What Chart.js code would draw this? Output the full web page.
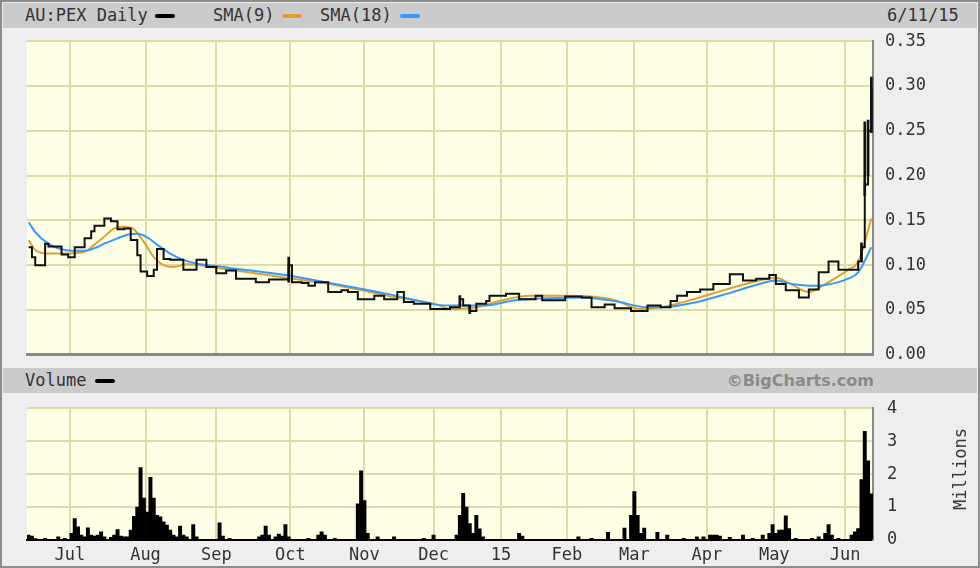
<!DOCTYPE html>
<html>
<head>
<meta charset="utf-8">
<script src="https://cdn.jsdelivr.net/npm/chart.js@4/dist/chart.umd.min.js"></script>
<style>
  body { margin:0; background:#fff; }
  #wrap { position:relative; width:980px; height:568px; background:#eeeeee; overflow:hidden;
          box-sizing:border-box; border:2px solid #8c8c8c; font-family:"DejaVu Sans Mono", monospace; color:#333; }
  .bar { position:absolute; left:1px; right:1px; height:25px; background:#cbcbcb; }
  .t { position:absolute; top:0; line-height:25px; font-size:17px; white-space:nowrap; }
  .sw { position:absolute; top:11px; width:20px; height:4px; border-radius:2px; }
  canvas { position:absolute; left:-2px; }
  #mil { position:absolute; left:958px; top:467px; font-size:17px; transform:translate(-50%,-50%) rotate(-90deg); white-space:nowrap; }
</style>
</head>
<body>
<div id="wrap">
  <canvas id="price" width="980" height="358" style="top:17px"></canvas>
  <canvas id="vol" width="980" height="183" style="top:382px"></canvas>
  <div class="bar" style="top:1px">
    <span class="t" style="left:22px">AU:PEX Daily</span><span class="sw" style="left:152px;background:#000"></span>
    <span class="t" style="left:210px">SMA(9)</span><span class="sw" style="left:279px;background:#e0a030"></span>
    <span class="t" style="left:317px">SMA(18)</span><span class="sw" style="left:397px;background:#3399ff"></span>
    <span class="t" style="left:884px">6/11/15</span>
  </div>
  <div class="bar" style="top:366px">
    <span class="t" style="left:22px">Volume</span><span class="sw" style="left:92px;background:#000"></span>
    <span class="t" style="right:103px;font-family:'DejaVu Sans',sans-serif;font-weight:bold;font-size:16px;color:#8a8a8a">&copy;BigCharts.com</span>
  </div>
  <div id="mil">Millions</div>
</div>
<script>
// x axis = trading day index, Jun 12 2014 .. Jun 11 2015
const monthTicks  = [12.5, 35.5, 57, 79.5, 102, 123, 143.5, 163.5, 184, 206, 226.5, 248];
const monthLabels = ['Jul','Aug','Sep','Oct','Nov','Dec','15','Feb','Mar','Apr','May','Jun'];
const priceTicks  = [0, 0.05, 0.10, 0.15, 0.20, 0.25, 0.30, 0.35];
const volTicks    = [0, 1, 2, 3, 4];

// daily close (step levels)
const closeDays = [0,1,2,5,6,10,12,14,17,19,20,23,25,27,29,31,33,34,36,38,39,41,43,47,51,54,57,60,63,69,73,79,80,83,85,87,91,95,97,100,105,108,112,114,117,122,128,131,132,134,136,139,140,145,149,154,156,163,168,171,175,178,183,188,192,195,197,200,204,208,213,217,221,225,227,230,234,237,240,243,246,252,253,254,255,256];
const closeVals = [0.120,0.109,0.100,0.124,0.121,0.112,0.109,0.120,0.130,0.138,0.144,0.152,0.149,0.140,0.141,0.128,0.111,0.093,0.088,0.095,0.118,0.107,0.106,0.095,0.106,0.098,0.091,0.094,0.085,0.081,0.084,0.100,0.081,0.080,0.077,0.081,0.070,0.072,0.070,0.062,0.066,0.062,0.070,0.059,0.057,0.051,0.053,0.062,0.055,0.049,0.057,0.060,0.066,0.068,0.062,0.066,0.061,0.065,0.064,0.053,0.056,0.052,0.049,0.055,0.053,0.060,0.066,0.070,0.073,0.079,0.090,0.083,0.085,0.089,0.079,0.072,0.064,0.073,0.092,0.104,0.095,0.104,0.120,0.190,0.250,0.300];

// high-low ranges where visible
const rangeDays = [79, 131, 134, 253, 254, 255, 256];
const rangeLow  = [0.081, 0.055, 0.046, 0.104, 0.178, 0.200, 0.248];
const rangeHigh = [0.109, 0.066, 0.055, 0.125, 0.260, 0.262, 0.310];

const sma9Days = [0,2,6,11,17,20,23,26,29,32,35,38,41,44,48,52,59,63,78,93,109,124,128,136,143,152,163,171,178,186,192,202,212,222,227,232,237,242,249,252,256];
const sma9Vals = [0.128,0.117,0.113,0.113,0.115,0.123,0.132,0.141,0.143,0.140,0.126,0.109,0.100,0.098,0.101,0.100,0.096,0.094,0.086,0.078,0.066,0.056,0.051,0.053,0.060,0.066,0.066,0.065,0.061,0.051,0.053,0.062,0.073,0.083,0.086,0.078,0.070,0.079,0.095,0.104,0.152];

const sma18Days = [0,2,6,11,17,20,23,27,30,33,36,39,43,47,52,57,63,78,93,109,124,128,138,148,158,168,178,188,192,202,212,222,227,232,238,242,249,252,256];
const sma18Vals = [0.148,0.137,0.124,0.117,0.116,0.119,0.124,0.130,0.134,0.135,0.131,0.123,0.113,0.106,0.101,0.099,0.096,0.089,0.079,0.068,0.056,0.055,0.055,0.061,0.063,0.064,0.060,0.053,0.053,0.058,0.068,0.079,0.083,0.079,0.077,0.078,0.085,0.092,0.120];

// volume, millions
const volDays = [0,1,2,5,9,11,13,14,15,16,17,18,19,20,21,22,23,25,26,27,28,29,30,31,32,33,34,35,36,37,38,39,40,41,42,43,44,45,46,47,48,50,51,58,59,61,70,71,72,73,75,76,77,78,79,85,88,89,90,93,100,101,102,103,106,111,120,123,130,131,132,133,134,135,136,137,138,149,150,167,171,176,181,183,184,185,186,187,191,194,199,203,205,207,208,209,210,213,217,220,223,225,226,227,228,229,230,231,233,238,240,242,243,244,246,250,251,252,253,254,255,256];
const volVals = [0.15,0.12,0.04,0.05,0.1,0.05,0.2,0.65,0.4,0.15,0.1,0.37,0.15,0.12,0.15,0.25,0.1,0.08,0.15,0.32,0.12,0.1,0.1,0.3,0.72,1.0,2.2,1.27,0.85,1.9,1.27,0.75,0.7,0.55,0.45,0.3,0.15,0.1,0.42,0.15,0.1,0.47,0.1,0.52,0.12,0.05,0.1,0.15,0.42,0.15,0.1,0.18,0.12,0.47,0.1,0.05,0.15,0.25,0.15,0.05,1.1,2.1,1.2,0.2,0.1,0.1,0.05,0.15,0.15,0.75,1.42,1.0,0.5,0.2,0.75,0.34,0.1,0.2,0.12,0.1,0.05,0.23,0.36,0.75,1.47,0.75,0.2,0.36,0.23,0.15,0.05,0.1,0.1,0.15,0.15,0.15,0.12,0.08,0.15,0.05,0.15,0.2,0.47,0.2,0.3,0.3,0.73,0.35,0.05,0.05,0.1,0.2,0.47,0.15,0.05,0.15,0.25,0.35,1.83,3.3,2.4,1.4];

const pts = (xs, ys) => xs.map((x, i) => ({x, y: ys[i]}));

Chart.defaults.font.family = '"DejaVu Sans Mono", monospace';
Chart.defaults.font.size = 17;
Chart.defaults.color = '#333';
Chart.defaults.animation = false;

const BG = '#ffffe6', GRID = '#dcdcaa';
const plotBg = {
  id: 'plotBg',
  beforeDraw(chart) {
    const {ctx, chartArea: a} = chart;
    ctx.save(); ctx.fillStyle = BG;
    ctx.fillRect(a.left, a.top, a.right - a.left, a.bottom - a.top);
    ctx.restore();
  }
};

const xAxis = (showLabels, extra) => ({
  type: 'linear', min: -0.5, max: 256.5, offset: false,
  afterBuildTicks: s => { s.ticks = monthTicks.map(v => ({value: v})); },
  grid: {color: GRID, lineWidth: 2, drawTicks: false, offset: false},
  ticks: {display: showLabels, autoSkip: false, maxRotation: 0, padding: 5,
          callback: (v, i) => monthLabels[i]},
  ...extra
});

new Chart(document.getElementById('price'), {
  type: 'line',
  data: {datasets: [
    {type: 'bar', data: rangeDays.map((d, i) => ({x: d, y: [rangeLow[i], rangeHigh[i]]})),
     backgroundColor: '#111', barThickness: 2, order: 1},
    {data: pts(closeDays, closeVals), stepped: true, borderColor: '#111', borderWidth: 2, pointRadius: 0, order: 2},
    {data: pts(sma18Days, sma18Vals), borderColor: '#3399ff', borderWidth: 2, pointRadius: 0, tension: 0.4, cubicInterpolationMode: 'monotone', order: 3},
    {data: pts(sma9Days, sma9Vals), borderColor: '#e0a030', borderWidth: 2, pointRadius: 0, tension: 0.4, cubicInterpolationMode: 'monotone', order: 4}
  ]},
  options: {
    responsive: false, devicePixelRatio: 1,
    layout: {padding: {left: 27, top: 0, bottom: 0, right: 0}},
    plugins: {legend: {display: false}, tooltip: {enabled: false}},
    scales: {
      x: xAxis(false, {afterFit: s => { s.height = 0; }, border: {color: '#888', width: 3}}),
      y: {position: 'right', min: 0, max: 0.35,
          afterBuildTicks: s => { s.ticks = priceTicks.map(v => ({value: v})); },
          afterFit: s => { s.width = 107; },
          grid: {color: GRID, lineWidth: 2, drawTicks: false},
          border: {color: '#888', width: 2},
          ticks: {padding: 12, callback: v => v.toFixed(2)}}
    }
  },
  plugins: [plotBg]
});

new Chart(document.getElementById('vol'), {
  type: 'bar',
  data: {datasets: [
    {data: pts(volDays, volVals), backgroundColor: '#000', barPercentage: 1, categoryPercentage: 1}
  ]},
  options: {
    responsive: false, devicePixelRatio: 1,
    layout: {padding: {left: 27, top: 0, bottom: 0, right: 0}},
    plugins: {legend: {display: false}, tooltip: {enabled: false}},
    scales: {
      x: xAxis(true, {afterFit: s => { s.height = 27; }, border: {color: '#000', width: 2}}),
      y: {position: 'right', min: 0, max: 4,
          afterBuildTicks: s => { s.ticks = volTicks.map(v => ({value: v})); },
          afterFit: s => { s.width = 107; },
          grid: {color: GRID, lineWidth: 2, drawTicks: false},
          border: {color: '#888', width: 2},
          ticks: {padding: 14, callback: v => String(v)}}
    }
  },
  plugins: [plotBg]
});
</script>
</body>
</html>
